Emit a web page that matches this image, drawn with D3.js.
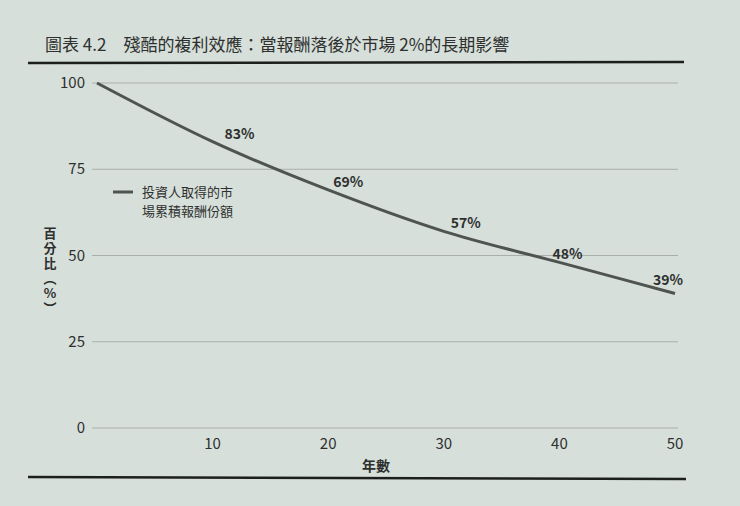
<!DOCTYPE html>
<html><head><meta charset="utf-8">
<script src="https://cdn.jsdelivr.net/npm/d3@7"></script>
<style>
body{margin:0;background:#d6dfd9;}
text{fill:#2e302f;font-family:"Liberation Sans Narrow","Noto Sans CJK TC",sans-serif;}
.cjk{font-family:"Noto Sans CJK TC",sans-serif;}
</style></head><body>
<svg id="c" width="740" height="506"></svg>
<script>
var years = [0, 10, 20, 30, 40, 50];
var share = [100, 83, 69, 57, 48, 39];
var yTicks = [0, 25, 50, 75, 100];
var xTicks = [10, 20, 30, 40, 50];
var labelDx = [0, 27, 20, 22, 8, -7];

var svg = d3.select("#c");
svg.append("rect").attr("width", 740).attr("height", 506).attr("fill", "#d6dfd9");

var x = d3.scaleLinear().domain([0, 50]).range([97, 675]);
var y = d3.scaleLinear().domain([0, 100]).range([428, 83]);

svg.append("text").attr("class", "cjk").attr("x", 45).attr("y", 51)
	.attr("font-size", 17).text("圖表 4.2　殘酷的複利效應：當報酬落後於市場 2%的長期影響");
svg.append("line").attr("x1", 28).attr("x2", 684).attr("y1", 63).attr("y2", 62)
	.attr("stroke", "#1d1f1e").attr("stroke-width", 2.5);
svg.append("line").attr("x1", 28).attr("x2", 686).attr("y1", 477).attr("y2", 479)
	.attr("stroke", "#1d1f1e").attr("stroke-width", 2.5);

var grid = svg.append("g");
yTicks.forEach(function(t) {
	grid.append("line").attr("x1", 92).attr("x2", 678)
		.attr("y1", y(t)).attr("y2", y(t))
		.attr("stroke", "#a9b0ab").attr("stroke-width", 1);
	grid.append("text").attr("x", 85).attr("y", y(t) + 5)
		.attr("text-anchor", "end").attr("font-size", 15).text(t);
});
xTicks.forEach(function(t) {
	svg.append("text").attr("x", x(t)).attr("y", 449)
		.attr("text-anchor", "middle").attr("font-size", 15).text(t);
});
svg.append("text").attr("class", "cjk").attr("x", 376).attr("y", 471)
	.attr("text-anchor", "middle").attr("font-size", 14).attr("font-weight", "bold").text("年數");

["百", "分", "比", "︵", "%", "︶"].forEach(function(c, i) {
	svg.append("text").attr("class", "cjk").attr("font-size", 13).attr("font-weight", "bold")
		.attr("text-anchor", "middle").attr("x", 50).attr("y", 238 + i * 15).text(c);
});

var line = d3.line().x(function(d, i) { return x(years[i]); })
	.y(function(d) { return y(d); }).curve(d3.curveMonotoneX);
svg.append("path").datum(share).attr("d", line).attr("fill", "none")
	.attr("stroke", "#4f5452").attr("stroke-width", 3);

share.forEach(function(v, i) {
	if (i === 0) return;
	svg.append("text").attr("x", x(years[i]) + labelDx[i]).attr("y", y(v) - (i === 5 ? 8 : 3))
		.attr("text-anchor", "middle").attr("font-size", 14).attr("font-weight", "bold").text(v + "%");
});

svg.append("line").attr("x1", 113).attr("x2", 133).attr("y1", 192).attr("y2", 192)
	.attr("stroke", "#4f5452").attr("stroke-width", 3);
svg.append("text").attr("class", "cjk").attr("x", 142).attr("y", 197).attr("font-size", 13).text("投資人取得的市");
svg.append("text").attr("class", "cjk").attr("x", 142).attr("y", 216).attr("font-size", 13).text("場累積報酬份額");
</script></body></html>
